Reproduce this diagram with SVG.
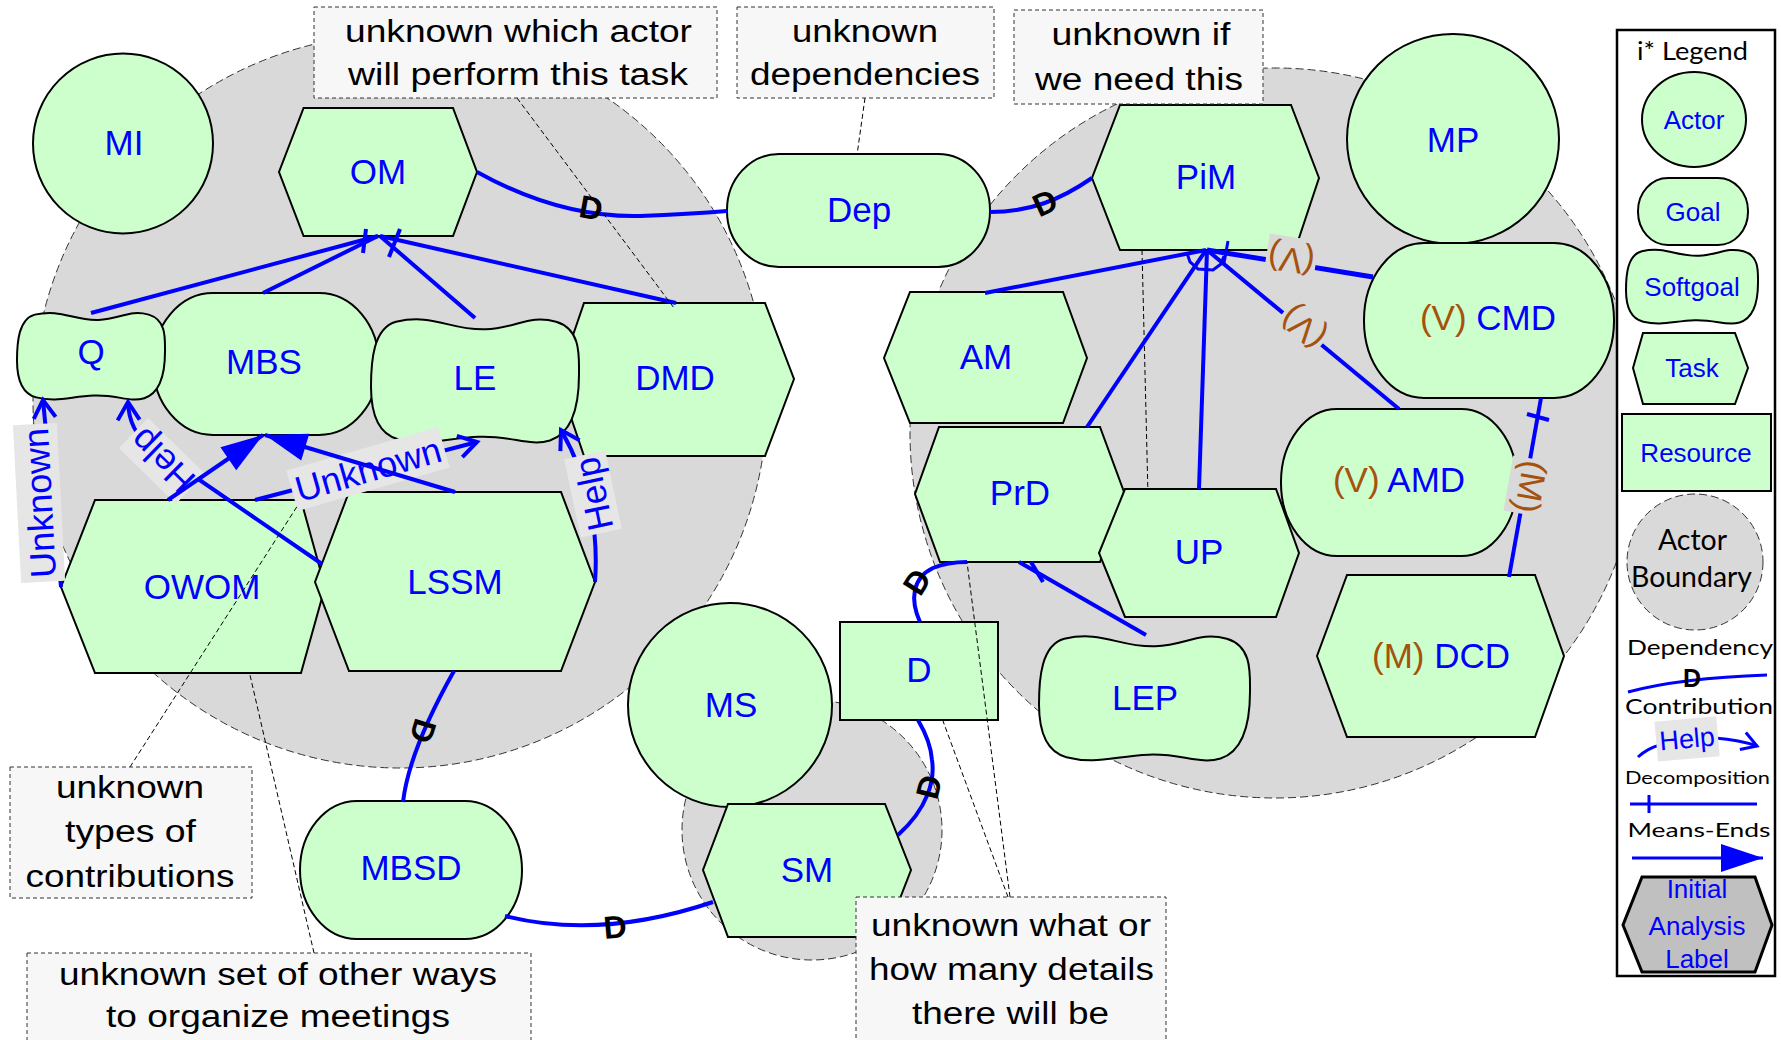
<svg xmlns="http://www.w3.org/2000/svg" width="1781" height="1040" viewBox="0 0 1781 1040">
<style>
.node{fill:#ccffcc;stroke:#000;stroke-width:2}
.lbl{font-family:"Liberation Sans",Arial,sans-serif;font-size:35px;fill:#0000ff;text-anchor:middle}
.br{fill:#a5520f}
.bnd{fill:#d9d9d9;stroke:#333;stroke-width:1;stroke-dasharray:8,4}
.link{fill:none;stroke:#0000ff;stroke-width:4}
.dep{font-family:"Liberation Sans",Arial,sans-serif;font-weight:bold;font-size:32px;fill:#000;text-anchor:middle}
.note{fill:#f7f7f7;stroke:#333;stroke-width:1;stroke-dasharray:4,3}
.nt{font-family:"Liberation Sans",Arial,sans-serif;font-size:31px;fill:#000;text-anchor:middle}
.nline{fill:none;stroke:#000;stroke-width:1;stroke-dasharray:5,3}
.clab{fill:#e6e6e6}
.vlab{fill:#d9d9d9}
.clt{font-family:"Liberation Sans",Arial,sans-serif;font-size:36px;fill:#0000ff;text-anchor:middle}
.leg{font-family:Lato,"Open Sans",sans-serif;fill:#000;text-anchor:middle}
.legl{font-family:"Liberation Sans",Arial,sans-serif;font-size:26px;fill:#0000ff;text-anchor:middle}
</style>
<defs>
<marker id="oa" markerUnits="userSpaceOnUse" orient="auto" overflow="visible" refX="0" refY="0" markerWidth="30" markerHeight="30">
<path d="M-18,-11 L0,0 L-18,11" fill="none" stroke="#0000ff" stroke-width="4" stroke-linejoin="miter"/>
</marker>
<marker id="oas" markerUnits="userSpaceOnUse" orient="auto" overflow="visible" refX="0" refY="0" markerWidth="30" markerHeight="30">
<path d="M-15,-9 L0,0 L-15,9" fill="none" stroke="#0000ff" stroke-width="3" stroke-linejoin="miter"/>
</marker>
<marker id="me" markerUnits="userSpaceOnUse" orient="auto" overflow="visible" refX="0" refY="0" markerWidth="44" markerHeight="30">
<path d="M0,0 L-42,-14 L-42,14 Z" fill="#0000ff"/>
</marker>
</defs>
<rect width="1781" height="1040" fill="#fff"/>

<g id="boundaries">
<circle class="bnd" cx="400" cy="401" r="367"/>
<circle class="bnd" cx="1275" cy="433" r="365"/>
<circle class="bnd" cx="812" cy="830" r="130"/>
</g>

<g id="hidden-note-line">
<path class="nline" d="M1142,250 L1148,495"/>
</g>

<g id="node-MI"><ellipse class="node" cx="123" cy="143.5" rx="90" ry="90"/><text class="lbl" x="124" y="155">MI</text></g>
<g id="node-OM"><polygon class="node" points="303.6,108 453,108 477,172 453,236 303.6,236 279,172"/><text class="lbl" x="378" y="184">OM</text></g>
<g id="node-MBS"><rect class="node" x="153" y="293" width="226" height="142" rx="60" ry="71"/><text class="lbl" x="264" y="374">MBS</text></g>
<g id="node-Q"><path class="node" d="M34.8,314.6 C61.4,308.5 73.2,320.8 98.4,319.9 C120.6,319 129.5,309.4 148.7,314.6 C166.5,319.9 165,338.4 165,351.6 C165,371.8 160.6,393 144.3,398.2 C129.5,402.6 117.6,394.7 94,395.6 C70.3,396.5 57,402.6 36.2,397.4 C20,393 17,375.4 17,360.4 C17,342.8 18.5,319 34.8,314.6 Z"/><text class="lbl" x="91" y="364">Q</text></g>
<g id="node-DMD"><polygon class="node" points="584,303 765,303 794,379 765,456 584,456 558,379"/><text class="lbl" x="675" y="390">DMD</text></g>
<g id="node-LE"><path class="node" d="M396,321.75 C433.4,313 450,330.5 485.4,329.25 C516.6,328 529.1,314.25 556.1,321.75 C581.1,329.25 579,355.5 579,374.25 C579,403 572.8,433 549.9,440.5 C529.1,446.75 512.4,435.5 479.2,436.75 C445.9,438 427.2,446.75 398,439.25 C375.2,433 371,408 371,386.75 C371,361.75 373.1,328 396,321.75 Z"/><text class="lbl" x="475" y="390">LE</text></g>
<g id="node-OWOM"><polygon class="node" points="95,500 301,500 325,587 301,673 95,673 61,587"/><text class="lbl" x="202" y="599">OWOM</text></g>
<g id="node-LSSM"><polygon class="node" points="349,492 561,492 595,582 561,671 349,671 315,582"/><text class="lbl" x="455" y="594">LSSM</text></g>
<g id="node-MBSD"><rect class="node" x="300" y="801" width="222" height="138" rx="57" ry="69"/><text class="lbl" x="411" y="880">MBSD</text></g>
<g id="node-MS"><circle class="node" cx="730" cy="705" r="102"/><text class="lbl" x="731" y="717">MS</text></g>
<g id="node-SM"><polygon class="node" points="728,804 885,804 911,870 885,937 728,937 703,870"/><text class="lbl" x="807" y="882">SM</text></g>
<g id="node-D"><rect class="node" x="840" y="622" width="158" height="98"/><text class="lbl" x="919" y="682">D</text></g>
<g id="node-Dep"><rect class="node" x="727" y="154" width="263" height="113" rx="52" ry="56"/><text class="lbl" x="859" y="222">Dep</text></g>
<g id="node-PiM"><polygon class="node" points="1120,105 1291,105 1319,178 1295,250 1120,250 1092,178"/><text class="lbl" x="1206" y="189">PiM</text></g>
<g id="node-MP"><ellipse class="node" cx="1453" cy="139" rx="106" ry="105"/><text class="lbl" x="1453" y="152">MP</text></g>
<g id="node-CMD"><rect class="node" x="1364" y="243" width="250" height="155" rx="60" ry="77"/><text class="lbl" x="1488" y="330"><tspan class="br">(V)</tspan> CMD</text></g>
<g id="node-AM"><polygon class="node" points="910,292 1063,292 1087,358 1063,423 910,423 884,358"/><text class="lbl" x="986" y="369">AM</text></g>
<g id="node-PrD"><polygon class="node" points="939,427 1100,427 1124,492 1100,562 940,562 915,494"/><text class="lbl" x="1020" y="505">PrD</text></g>
<g id="node-UP"><polygon class="node" points="1125,489 1276,489 1299,553 1276,617 1125,617 1099,553"/><text class="lbl" x="1199" y="564">UP</text></g>
<g id="node-AMD"><rect class="node" x="1281" y="409" width="236" height="147" rx="56" ry="73"/><text class="lbl" x="1399" y="492"><tspan class="br">(V)</tspan> AMD</text></g>
<g id="node-DCD"><polygon class="node" points="1347,575 1535,575 1564,656 1535,737 1347,737 1317,656"/><text class="lbl" x="1441" y="668"><tspan class="br">(M)</tspan> DCD</text></g>
<g id="node-LEP"><path class="node" d="M1064.3,638.8 C1102.3,630 1119.2,647.6 1155.1,646.3 C1186.7,645.1 1199.4,631.2 1226.8,638.8 C1252.1,646.3 1250,672.8 1250,691.7 C1250,720.7 1243.7,750.9 1220.5,758.5 C1199.4,764.8 1182.5,753.4 1148.7,754.7 C1115,756 1096,764.8 1066.4,757.2 C1043.2,750.9 1039,725.7 1039,704.3 C1039,679.1 1041.1,645.1 1064.3,638.8 Z"/><text class="lbl" x="1145" y="710">LEP</text></g>

<g id="connectors">
<path class="link" d="M91,313 L378,236"/>
<path class="link" d="M263,293 L378,236"/>
<path class="link" d="M475,318 L380,236"/>
<path class="link" d="M676,303 L380,236"/>
<path class="link" d="M366,229 L363,253"/>
<path class="link" d="M400,229 L389,257"/>
<path class="link" d="M61,587 L43,400" marker-end="url(#oa)"/>
<path class="link" d="M322,564 L150,446 Q129,431 128,402" marker-end="url(#oa)"/>
<path class="link" d="M255,500 L477,442" marker-end="url(#oa)"/>
<path class="link" d="M595,582 Q601,500 561,430" marker-end="url(#oa)"/>
<g transform="translate(39,503) rotate(-93)"><rect class="clab" x="-79" y="-22" width="158" height="44"/><text class="clt" y="13">Unknown</text></g>
<g transform="translate(162,461) rotate(224.5)"><rect class="clab" x="-40" y="-21" width="80" height="42"/><text class="clt" y="13">Help</text></g>
<g transform="translate(368,469) rotate(-16)"><rect class="clab" x="-79" y="-21" width="158" height="42"/><text class="clt" y="13">Unknown</text></g>
<g transform="translate(593,494) rotate(-102)"><rect class="clab" x="-40" y="-21" width="80" height="42"/><text class="clt" y="13">Help</text></g>
<path class="link" d="M168,500 L263,435" marker-end="url(#me)"/>
<path class="link" d="M455,492 L265,435" marker-end="url(#me)"/>
<path class="link" d="M985,293 L1206,250"/>
<path class="link" d="M1087,427 L1206,250"/>
<path class="link" d="M1199,489 L1207,250"/>
<path class="link" d="M1399,409 L1207,250"/>
<path class="link" d="M1207,250 L1373,277" style="stroke-width:5"/>
<path class="link" d="M1187,253 L1190,262 L1198,269 L1213,270 L1221,264 L1224,256" style="stroke-width:3"/>
<path class="link" d="M1228,241 L1224,263" style="stroke-width:3"/>
<g transform="translate(1291,260) rotate(189)"><rect class="vlab" x="-25" y="-21" width="50" height="44"/><text class="lbl br" y="12">(V)</text></g>
<g transform="translate(1303,328) rotate(220)"><rect class="vlab" x="-25" y="-21" width="50" height="44"/><text class="lbl br" y="12">(V)</text></g>
<path class="link" d="M1541,398 L1509,577"/>
<path class="link" d="M1527,414 L1549,420"/>
<g transform="translate(1531,487) rotate(100)"><rect class="vlab" x="-28" y="-21" width="56" height="44"/><text class="lbl br" y="12">(M)</text></g>
<path class="link" d="M1019,562 L1146,635"/>
<path class="link" d="M1031,562 L1043,582"/>
<path class="link" d="M477,172 Q560,218 640,216 Q690,214 727,211"/>
<path class="link" d="M990,212 C1030,212 1060,200 1092,178"/>
<path class="link" d="M454,671 C432,710 408,760 403,802"/>
<path class="link" d="M505,916 Q600,940 713,902"/>
<path class="link" d="M898,835 C928,808 935,780 932,760 C931,745 925,732 918,720"/>
<path class="link" d="M920,622 C910,600 912,578 933,568 C945,563 955,562 967,562"/>
<text class="dep" transform="translate(591,208) rotate(10)" y="11">D</text>
<text class="dep" transform="translate(1045,203) rotate(-25)" y="11">D</text>
<text class="dep" transform="translate(423,731) rotate(107)" y="11">D</text>
<text class="dep" transform="translate(615,927) rotate(-5)" y="11">D</text>
<text class="dep" transform="translate(929,787) rotate(-76)" y="11">D</text>
<text class="dep" transform="translate(917,582) rotate(-58)" y="11">D</text>
<path class="nline" d="M517,98 L674,308"/>
<path class="nline" d="M865,98 L857,155"/>
<path class="nline" d="M130,767 L298,505"/>
<path class="nline" d="M314,953 L250,675"/>
<path class="nline" d="M1010,897 L967,562"/>
<path class="nline" d="M1008,897 L943,721"/>
</g>

<g id="note-actor"><rect class="note" x="314" y="7" width="403" height="91"/>
<text class="nt" x="518.5" y="42" textLength="347" lengthAdjust="spacingAndGlyphs">unknown which actor</text>
<text class="nt" x="518" y="85" textLength="340" lengthAdjust="spacingAndGlyphs">will perform this task</text></g>
<g id="note-deps"><rect class="note" x="737" y="7" width="257" height="91"/>
<text class="nt" x="865" y="42" textLength="146" lengthAdjust="spacingAndGlyphs">unknown</text>
<text class="nt" x="865" y="85" textLength="230" lengthAdjust="spacingAndGlyphs">dependencies</text></g>
<g id="note-need"><rect class="note" x="1014" y="10" width="249" height="94"/>
<text class="nt" x="1141" y="45" textLength="179" lengthAdjust="spacingAndGlyphs">unknown if</text>
<text class="nt" x="1139" y="90" textLength="208" lengthAdjust="spacingAndGlyphs">we need this</text></g>
<g id="note-types"><rect class="note" x="10" y="767" width="242" height="131"/>
<text class="nt" x="130" y="798" textLength="148" lengthAdjust="spacingAndGlyphs">unknown</text>
<text class="nt" x="130.5" y="842" textLength="131" lengthAdjust="spacingAndGlyphs">types of</text>
<text class="nt" x="130" y="887" textLength="209" lengthAdjust="spacingAndGlyphs">contributions</text></g>
<g id="note-ways"><rect class="note" x="27" y="953" width="504" height="100"/>
<text class="nt" x="278" y="985" textLength="438" lengthAdjust="spacingAndGlyphs">unknown set of other ways</text>
<text class="nt" x="278" y="1027" textLength="344" lengthAdjust="spacingAndGlyphs">to organize meetings</text></g>
<g id="note-details"><rect class="note" x="856" y="897" width="310" height="156"/>
<text class="nt" x="1011" y="936" textLength="280" lengthAdjust="spacingAndGlyphs">unknown what or</text>
<text class="nt" x="1011.5" y="980" textLength="285" lengthAdjust="spacingAndGlyphs">how many details</text>
<text class="nt" x="1010.5" y="1024" textLength="197" lengthAdjust="spacingAndGlyphs">there will be</text></g>

<g id="legend">
<rect x="1617" y="30" width="158" height="946" fill="#fff" stroke="#000" stroke-width="2.5"/>
<text class="leg" x="1692.5" y="60" style="font-size:25px" textLength="111" lengthAdjust="spacingAndGlyphs">i* Legend</text>
<ellipse class="node" cx="1694" cy="119.5" rx="52" ry="47.5"/><text class="legl" x="1694" y="129">Actor</text>
<rect class="node" x="1638" y="178" width="110" height="67" rx="30" ry="33"/><text class="legl" x="1693" y="221">Goal</text>
<path class="node" d="M1641.8,251.25 C1665.6,246 1676.2,256.5 1698.6,255.75 C1718.4,255 1726.3,246.75 1743.5,251.25 C1759.3,255.75 1758,271.5 1758,282.75 C1758,300 1754,318 1739.5,322.5 C1726.3,326.25 1715.8,319.5 1694.6,320.25 C1673.5,321 1661.6,326.25 1643.2,321.75 C1628.6,318 1626,303 1626,290.25 C1626,275.25 1627.3,255 1641.8,251.25 Z"/><text class="legl" x="1692" y="296">Softgoal</text>
<polygon class="node" points="1643,333 1735,333 1748,368 1735,404 1643,404 1633,368"/><text class="legl" x="1692" y="377">Task</text>
<rect class="node" x="1622" y="414" width="149" height="77"/><text class="legl" x="1696" y="462">Resource</text>
<ellipse class="bnd" cx="1695" cy="562" rx="68" ry="68"/>
<text class="leg" x="1692.5" y="550" style="font-size:28px" textLength="69" lengthAdjust="spacingAndGlyphs">Actor</text>
<text class="leg" x="1691.5" y="587" style="font-size:28px" textLength="121" lengthAdjust="spacingAndGlyphs">Boundary</text>
<text class="leg" x="1700" y="655" style="font-size:22px" textLength="146" lengthAdjust="spacingAndGlyphs">Dependency</text>
<path class="link" d="M1628,692 Q1680,678 1767,675" style="stroke-width:3"/>
<text class="dep" x="1692" y="687" style="font-size:25px">D</text>
<text class="leg" x="1699" y="714" style="font-size:21px" textLength="148" lengthAdjust="spacingAndGlyphs">Contribution</text>
<path class="link" d="M1638,757 Q1648,748 1660,745" style="stroke-width:3"/>
<path class="link" d="M1715,738 Q1740,740 1757,746" style="stroke-width:3" marker-end="url(#oas)"/>
<g transform="translate(1687,738) rotate(-5)"><rect class="clab" x="-31" y="-19" width="62" height="40"/><text class="clt" y="10" style="font-size:27px">Help</text></g>
<text class="leg" x="1697.5" y="784" style="font-size:17px" textLength="145" lengthAdjust="spacingAndGlyphs">Decomposition</text>
<path class="link" d="M1630,804 L1757,804" style="stroke-width:3"/>
<path class="link" d="M1649,795 L1649,813" style="stroke-width:3"/>
<text class="leg" x="1699" y="837" style="font-size:20px" textLength="143" lengthAdjust="spacingAndGlyphs">Means-Ends</text>
<path class="link" d="M1632,858 L1763,858" style="stroke-width:3" marker-end="url(#me)"/>
<polygon points="1642,877 1755,877 1772,925 1755,972 1642,972 1623,925" fill="#c0c0c0" stroke="#000" stroke-width="3"/>
<text class="lbl" x="1697" y="898" style="font-size:26px">Initial</text>
<text class="lbl" x="1697" y="935" style="font-size:26px">Analysis</text>
<text class="lbl" x="1697" y="968" style="font-size:26px">Label</text>
</g>
</svg>
